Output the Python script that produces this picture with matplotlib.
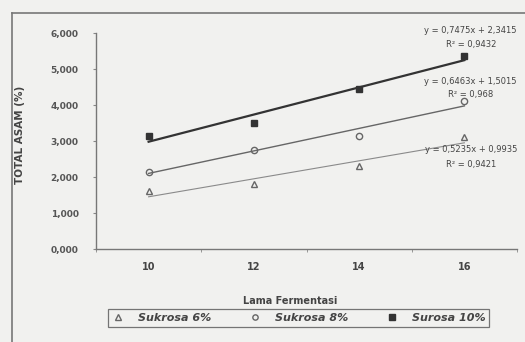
import matplotlib
matplotlib.use("Agg")
import matplotlib.pyplot as plt
import numpy as np
from matplotlib.lines import Line2D

# Data
lama = [10, 12, 14, 16]
sukrosa_6 = [1.60, 1.80, 2.30, 3.10]
sukrosa_8 = [2.15, 2.75, 3.15, 4.10]
surosa_10 = [3.15, 3.50, 4.45, 5.35]
series_labels = ["Sukrosa 6%", "Sukrosa 8%", "Surosa 10%"]
eq_texts = [
    ("y = 0,7475x + 2,3415", "R² = 0,9432"),
    ("y = 0,6463x + 1,5015", "R² = 0,968"),
    ("y = 0,5235x + 0,9935", "R² = 0,9421"),
]
yticks = [0, 1, 2, 3, 4, 5, 6]
ytick_labels = ["0,000", "1,000", "2,000", "3,000", "4,000", "5,000", "6,000"]

bg = "#f1f1ef"
fig = plt.figure(figsize=(5.25, 3.42), dpi=100, facecolor=bg)
ax = fig.add_axes([96/525, 1-249/342, (517-96)/525, (249-33)/342], facecolor=bg)

# outer chart border (partially visible)
fig.add_artist(Line2D([12/525, 12/525], [0, 1-13/342], color="#777", lw=1.2, transform=fig.transFigure))
fig.add_artist(Line2D([12/525, 1], [1-13/342, 1-13/342], color="#777", lw=1.2, transform=fig.transFigure))

x = np.array(lama, dtype=float)
idx = np.arange(1, len(lama)+1)

styles = [
    dict(data=sukrosa_6, marker="^", mfc="none", mec="#666", ms=5, lc="#8a8a8a", lw=0.8),
    dict(data=sukrosa_8, marker="o", mfc="none", mec="#666", ms=4.5, lc="#666", lw=1.0),
    dict(data=surosa_10, marker="s", mfc="#333", mec="#333", ms=5, lc="#333", lw=1.6),
]
handles = []
for st, lab in zip(styles, series_labels):
    y = np.array(st["data"])
    ax.plot(x, y, ls="none", marker=st["marker"], mfc=st["mfc"], mec=st["mec"], ms=st["ms"], mew=1.0, zorder=3)
    m, b = np.polyfit(idx, y, 1)
    ax.plot(x, m*idx + b, color=st["lc"], lw=st["lw"], zorder=2)
    handles.append(Line2D([], [], ls="none", marker=st["marker"], mfc=st["mfc"], mec=st["mec"], ms=st["ms"]*0.85, mew=1.0, label=lab))

ax.set_xlim(9, 17)
ax.set_ylim(0, 6)
ax.set_xticks(lama)
ax.set_xticklabels([str(v) for v in lama], fontsize=7, fontweight="bold", color="#444")
ax.set_xticks([9, 11, 13, 15, 17], minor=True)
ax.tick_params(axis="x", which="major", length=0, pad=9)
ax.tick_params(axis="x", which="minor", length=2.5, color="#888", direction="out")
ax.set_yticks(yticks)
ax.set_yticklabels(ytick_labels, fontsize=6.5, fontweight="bold", color="#555")
ax.tick_params(axis="y", length=2.5, color="#888", pad=10)
for s in ["top", "right"]:
    ax.spines[s].set_visible(False)
for s in ["left", "bottom"]:
    ax.spines[s].set_color("#777")
    ax.spines[s].set_linewidth(1.0)

ax.set_xlabel("Lama Fermentasi", fontsize=7, fontweight="bold", color="#444", labelpad=3)
ax.xaxis.set_label_coords((290-96)/(517-96), -(296-249)/(249-33))
fig.text(20/525, 1-135/342, "TOTAL ASAM (%)", rotation=90, fontsize=7.5, fontweight="bold",
         color="#444", ha="center", va="center")

# equation annotations
eq_pos = [(16.12, 6.08, 5.67), (16.12, 4.64, 4.28), (16.12, 2.75, 2.36)]
for (eq, r2), (xp, y1, y2) in zip(eq_texts, eq_pos):
    ax.text(xp, y1, eq, fontsize=6.0, color="#444", ha="center", va="center", clip_on=False)
    ax.text(xp, y2, r2, fontsize=6.0, color="#444", ha="center", va="center", clip_on=False)

leg = fig.legend(handles=handles, loc="center", bbox_to_anchor=((102+495)/2/525, 1-318/342),
                 ncol=3, frameon=True, fancybox=False, edgecolor="#555", facecolor=bg,
                 prop=dict(size=8, weight="bold", style="italic"), handletextpad=1.2,
                 columnspacing=3.3, borderpad=0.35, handlelength=1.2)
leg.get_frame().set_linewidth(0.9)
for t in leg.get_texts():
    t.set_color("#444")

fig.savefig("out.png", dpi=100, facecolor=bg)
